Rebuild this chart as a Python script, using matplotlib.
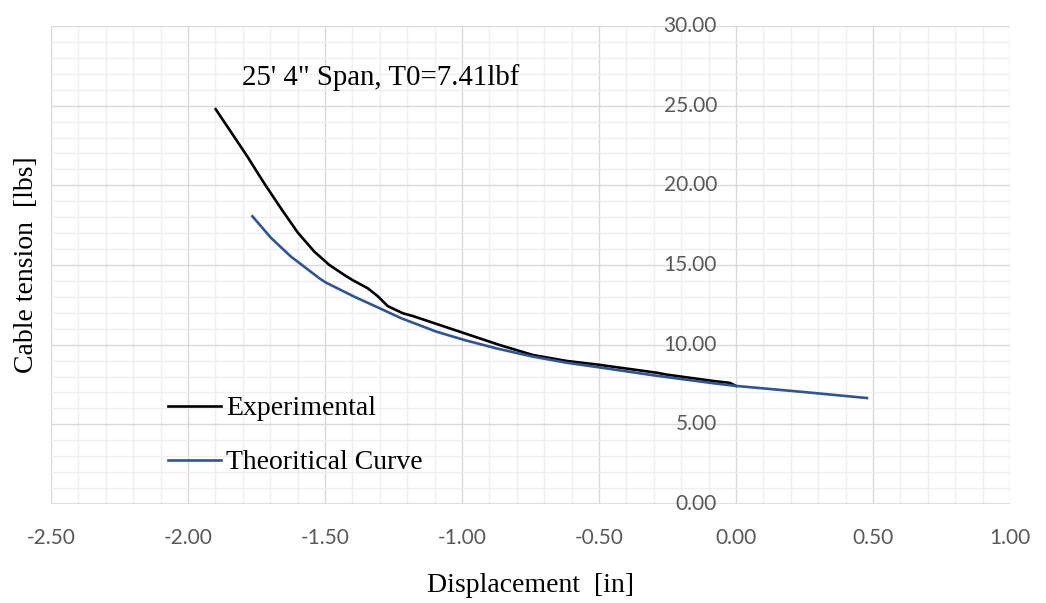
import matplotlib
matplotlib.use("Agg")
import matplotlib.pyplot as plt
import matplotlib.transforms as mtransforms
from matplotlib.ticker import MultipleLocator

# experimental curve
exp_x = [-1.899, -1.844, -1.783, -1.722, -1.661, -1.600, -1.539, -1.484, -1.430,
         -1.399, -1.344, -1.308, -1.271, -1.216, -1.180, -0.997, -0.863, -0.741,
         -0.619, -0.497, -0.290, -0.253, -0.083, -0.022, 0.0]
exp_y = [24.78, 23.37, 21.80, 20.13, 18.56, 17.05, 15.84, 15.00, 14.38,
         14.05, 13.54, 13.05, 12.42, 11.97, 11.80, 10.75, 9.98, 9.35,
         8.98, 8.73, 8.24, 8.12, 7.72, 7.60, 7.41]

# theoretical curve
theo_x = [-1.765, -1.698, -1.624, -1.600, -1.521, -1.497, -1.393, -1.296, -1.222,
          -1.094, -0.991, -0.875, -0.741, -0.619, -0.497, -0.290, -0.083, 0.0,
          0.246, 0.478]
theo_y = [18.06, 16.72, 15.52, 15.21, 14.17, 13.90, 13.01, 12.25, 11.66,
          10.82, 10.29, 9.77, 9.25, 8.87, 8.57, 8.05, 7.58, 7.41,
          7.03, 6.65]

x_ticks = [-2.5, -2.0, -1.5, -1.0, -0.5, 0.0, 0.5, 1.0]
y_ticks = [0, 5, 10, 15, 20, 25, 30]

TICK_FONT = "Lato"
TEXT_FONT = "Liberation Serif"
TICK_COLOR = "#595959"

fig = plt.figure(figsize=(10.46, 6.03), dpi=100)
ax = fig.add_axes([51 / 1046, 99 / 603, 959 / 1046, 478 / 603])

ax.set_xlim(-2.5, 1.0)
ax.set_ylim(0, 30)
ax.xaxis.set_major_locator(MultipleLocator(0.5))
ax.xaxis.set_minor_locator(MultipleLocator(0.1))
ax.yaxis.set_major_locator(MultipleLocator(5))
ax.yaxis.set_minor_locator(MultipleLocator(1))
ax.grid(which="minor", color="#EFEFEF", lw=1.0, zorder=0)
ax.grid(which="major", color="#D9D9D9", lw=1.0, zorder=0)
ax.set_axisbelow(True)
for s in ax.spines.values():
    s.set_visible(False)
ax.axhline(0, color="#D9D9D9", lw=1.2, zorder=1)

ax.tick_params(which="both", length=0)
ax.tick_params(axis="x", pad=17, labelsize=15, labelcolor=TICK_COLOR)
ax.set_xticks(x_ticks)
ax.set_xticklabels(["%.2f" % v for v in x_ticks], fontfamily=TICK_FONT)
ax.set_yticklabels([])

# y tick labels sit next to the y axis at x=0
offset = mtransforms.ScaledTranslation(-19 / 100, 0, fig.dpi_scale_trans)
for v in y_ticks:
    ax.text(0, v, "%.2f" % v, transform=ax.transData + offset, ha="right", va="center",
            fontsize=15, color=TICK_COLOR, fontfamily=TICK_FONT)

ax.plot(exp_x, exp_y, color="black", lw=1.9, label="Experimental", zorder=3,
        solid_joinstyle="round")
ax.plot(theo_x, theo_y, color="#2F5597", lw=1.9, label="Theoritical Curve", zorder=3,
        solid_joinstyle="round")

ax.text(-1.803, 26.3, "25' 4\" Span, T0=7.41lbf", fontsize=20.8, fontfamily=TEXT_FONT,
        ha="left", va="baseline")

ax.set_xlabel("Displacement  [in]", fontsize=20, fontfamily=TEXT_FONT, labelpad=18.5)
ax.set_ylabel("Cable tension  [lbs]", fontsize=20, fontfamily=TEXT_FONT)
ax.yaxis.set_label_coords(-12 / 959, 0.5)

leg = ax.legend(loc="upper left", bbox_to_anchor=(168 / 1046, (603 - 396) / 603),
                bbox_transform=fig.transFigure, frameon=False, borderpad=0,
                borderaxespad=0, handlelength=1.9, handletextpad=0.2,
                labelspacing=1.02, prop={"family": TEXT_FONT, "size": 20})

fig.savefig("out.png", dpi=100)
